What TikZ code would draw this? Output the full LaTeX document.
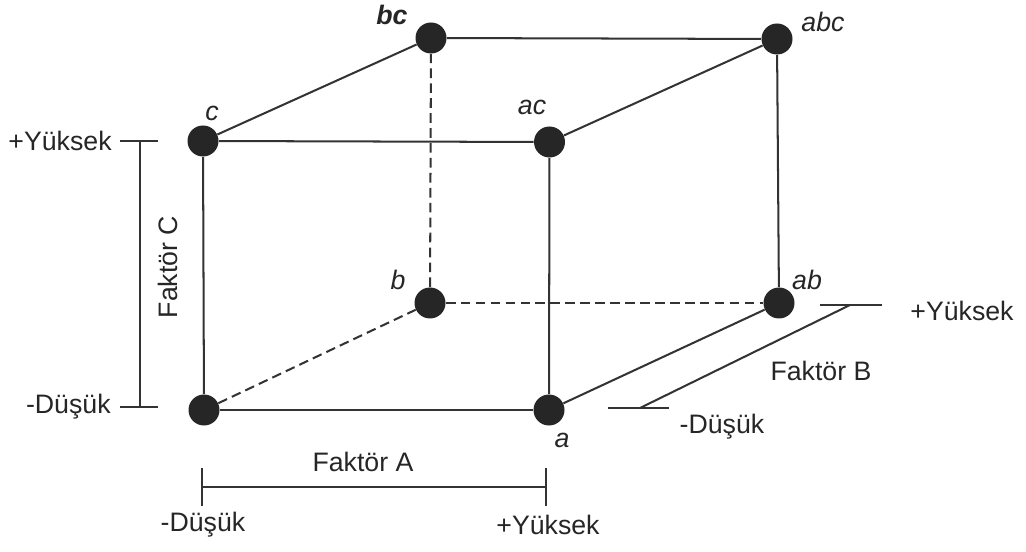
\documentclass[tikz,border=0pt]{standalone}
\usepackage{fontspec}
\setmainfont{Liberation Sans}
\begin{document}
\begin{tikzpicture}[
    x=1cm,y=1cm,
    pt/.style={
        circle,
        fill=black!85,
        minimum size=0.62cm,
        inner sep=0pt
    },
    edge/.style={line width=1.15pt, draw=black!80},
    hidden/.style={edge, dash pattern=on 5.5pt off 3pt},
    bar/.style={line width=1.15pt, draw=black!80},
    lbl/.style={font=\fontsize{15.2}{17}\selectfont, text=black!85, inner sep=0pt},
    vlbl/.style={lbl, font=\fontsize{15.2}{17}\selectfont\itshape}
]
    \useasboundingbox (0,0) rectangle (20.52,11.02);

    % cube corners
    \node[pt] (o)   at (4.08,2.82) {};
    \node[pt] (a)   at (10.98,2.82) {};
    \node[pt] (b)   at (8.60,4.96) {};
    \node[pt] (ab)  at (15.58,4.96) {};
    \node[pt] (c)   at (4.06,8.20) {};
    \node[pt] (ac)  at (10.99,8.18) {};
    \node[pt] (bc)  at (8.62,10.26) {};
    \node[pt] (abc) at (15.54,10.24) {};

    % visible edges
    \draw[edge] (o) -- (a);
    \draw[edge] (o) -- (c);
    \draw[edge] (c) -- (ac);
    \draw[edge] (a) -- (ac);
    \draw[edge] (c) -- (bc);
    \draw[edge] (ac) -- (abc);
    \draw[edge] (bc) -- (abc);
    \draw[edge] (abc) -- (ab);
    \draw[edge] (a) -- (ab);

    % hidden edges
    \draw[hidden] (o) -- (b);
    \draw[hidden] (b) -- (ab);
    \draw[hidden] (b) -- (bc);

    % corner labels
    \node[vlbl] (lc)   at (4.24,8.76) {c};
    \node[vlbl] (lac)  at (10.64,8.88) {ac};
    \node[vlbl, font=\fontsize{15.2}{17}\selectfont\bfseries\itshape] (lbc) at (7.84,10.72) {bc};
    \node[vlbl] (labc) at (16.46,10.58) {abc};
    \node[vlbl] (lb)   at (7.96,5.42) {b};
    \node[vlbl] (lab)  at (16.14,5.42) {ab};
    \node[vlbl] (la)   at (11.24,2.22) {a};

    % factor C scale
    \coordinate (Chi) at (2.8,8.2);
    \coordinate (Clo) at (2.8,2.88);
    \draw[bar] (Chi) -- (Clo);
    \draw[bar] ([xshift=-0.4cm]Chi) -- ([xshift=0.36cm]Chi);
    \draw[bar] ([xshift=-0.4cm]Clo) -- ([xshift=0.36cm]Clo);
    \node[lbl, anchor=east] (Chitxt) at (2.24,8.2) {+Yüksek};
    \node[lbl, anchor=east] (Clotxt) at (2.22,2.88) {-Düşük};
    \node[lbl, rotate=90] (Cname) at (3.36,5.68) {Faktör C};

    % factor A scale
    \coordinate (Alo) at (4.04,1.28);
    \coordinate (Ahi) at (10.92,1.28);
    \draw[bar] (Alo) -- (Ahi);
    \draw[bar] ([yshift=0.38cm]Alo) -- ([yshift=-0.38cm]Alo);
    \draw[bar] ([yshift=0.38cm]Ahi) -- ([yshift=-0.38cm]Ahi);
    \node[lbl] (Aname) at (7.26,1.78) {Faktör A};
    \node[lbl] (Alotxt) at (4.06,0.52) {-Düşük};
    \node[lbl] (Ahitxt) at (10.96,0.52) {+Yüksek};

    % factor B scale
    \coordinate (Blo) at (12.8,2.86);
    \coordinate (Bhi) at (17.0,4.92);
    \draw[bar] (Blo) -- (Bhi);
    \draw[bar] (12.16,2.86) -- (13.38,2.86);
    \draw[bar] (16.40,4.92) -- (17.64,4.92);
    \node[lbl] (Bname) at (16.42,3.6) {Faktör B};
    \node[lbl] (Blotxt) at (14.44,2.48) {-Düşük};
    \node[lbl] (Bhitxt) at (19.24,4.8) {+Yüksek};

\end{tikzpicture}
\end{document}
